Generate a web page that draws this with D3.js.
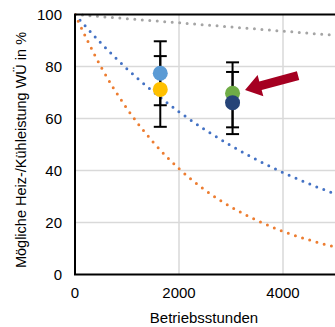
<!DOCTYPE html>
<html>
<head>
<meta charset="utf-8">
<script src="https://cdn.jsdelivr.net/npm/d3@7"></script>
<style>
  body { margin: 0; background: #fff; }
  svg { display: block; font-family: "Liberation Sans", Arial, sans-serif; }
</style>
</head>
<body>
<svg id="chart"></svg>
<script>
var width = 335;
var height = 327;

// trend curves, every 500 h
var hours = [0, 500, 1000, 1500, 2000, 2500, 3000, 3500, 4000, 4500, 5000];
var grayCurve = [100, 99.2, 98.4, 97.6, 96.8, 96.0, 95.2, 94.4, 93.6, 92.8, 92.0];
var blueCurve = [100, 89.0, 79.1, 70.4, 62.6, 55.7, 49.6, 44.1, 39.2, 34.9, 31.0];
var orangeCurve = [100, 79.9, 63.8, 51.0, 40.7, 32.5, 26.0, 20.8, 16.6, 13.3, 10.6];

// measured points with error bars
var pointHours = [1640, 1640, 3030, 3030];
var pointValues = [77.4, 71.2, 69.7, 66.1];
var pointUpper = [89.7, 84.0, 81.6, 77.9];
var pointLower = [65.1, 56.8, 56.6, 54.0];
var pointColors = ["#5B9BD5", "#FFC000", "#70AD47", "#264478"];

var xTicks = [0, 2000, 4000];
var yTicks = [0, 20, 40, 60, 80, 100];

var svg = d3.select("#chart")
    .attr("width", width)
    .attr("height", height);

var x = d3.scaleLinear().domain([0, 5000]).range([75, 335]);
var y = d3.scaleLinear().domain([0, 100]).range([274.5, 14.5]);

svg.append("defs").append("clipPath")
    .attr("id", "plot-clip")
    .append("rect")
    .attr("x", x(0)).attr("y", y(100) - 2)
    .attr("width", x(5000) - x(0)).attr("height", y(0) - y(100) + 2);

// grid
svg.append("g")
    .selectAll("line.h")
    .data(yTicks.filter(function (d) { return d > 0 && d < 100; }))
    .enter().append("line")
    .attr("x1", x(0)).attr("x2", x(5000))
    .attr("y1", y).attr("y2", y)
    .attr("stroke", "#D9D9D9")
    .attr("stroke-width", 1.5);

svg.append("g")
    .selectAll("line.v")
    .data(xTicks.filter(function (d) { return d > 0; }))
    .enter().append("line")
    .attr("x1", x).attr("x2", x)
    .attr("y1", y(0)).attr("y2", y(100))
    .attr("stroke", "#D9D9D9")
    .attr("stroke-width", 1.5);

// dotted trend curves
var line = d3.line()
    .x(function (d, i) { return x(hours[i]); })
    .y(function (d) { return y(d); })
    .curve(d3.curveMonotoneX);

var curves = [
    { values: grayCurve, color: "#A5A5A5" },
    { values: blueCurve, color: "#4472C4" },
    { values: orangeCurve, color: "#ED7D31" }
];

svg.append("g")
    .attr("clip-path", "url(#plot-clip)")
    .selectAll("path")
    .data(curves).enter().append("path")
    .attr("d", function (d) { return line(d.values); })
    .attr("fill", "none")
    .attr("stroke", function (d) { return d.color; })
    .attr("stroke-width", 3)
    .attr("stroke-linecap", "round")
    .attr("stroke-dasharray", "0 7.5");

// frame
svg.append("path")
    .attr("d", "M" + x(5000) + "," + y(100) + "H" + x(0) + "V" + y(0) + "H" + x(5000))
    .attr("fill", "none")
    .attr("stroke", "#000")
    .attr("stroke-width", 2);

// error bars
var bars = svg.append("g");
pointHours.forEach(function (h, i) {
    var cx = x(h);
    bars.append("line")
        .attr("x1", cx).attr("x2", cx)
        .attr("y1", y(pointUpper[i])).attr("y2", y(pointLower[i]))
        .attr("stroke", "#000").attr("stroke-width", 2);
    [pointUpper[i], pointLower[i]].forEach(function (v) {
        bars.append("line")
            .attr("x1", cx - 6.5).attr("x2", cx + 6.5)
            .attr("y1", y(v)).attr("y2", y(v))
            .attr("stroke", "#000").attr("stroke-width", 2);
    });
});

// markers
svg.append("g")
    .selectAll("circle")
    .data(pointValues).enter().append("circle")
    .attr("cx", function (d, i) { return x(pointHours[i]); })
    .attr("cy", function (d) { return y(d); })
    .attr("r", 7.5)
    .attr("fill", function (d, i) { return pointColors[i]; });

// arrow pointing at the right pair
var tail = [x(4290), y(76.5)];
var tip = [x(3270), y(71)];
var ang = Math.atan2(tip[1] - tail[1], tip[0] - tail[0]);
var len = Math.hypot(tip[0] - tail[0], tip[1] - tail[1]);
var headLen = 16, headW = 11, shaftW = 4.5;
svg.append("path")
    .attr("transform", "translate(" + tail[0] + "," + tail[1] + ") rotate(" + (ang * 180 / Math.PI) + ")")
    .attr("d", "M0," + (-shaftW) + "L" + (len - headLen) + "," + (-shaftW) +
        "L" + (len - headLen) + "," + (-headW) + "L" + len + ",0" +
        "L" + (len - headLen) + "," + headW + "L" + (len - headLen) + "," + shaftW +
        "L0," + shaftW + "Z")
    .attr("fill", "#A50021");

// tick labels
svg.append("g")
    .selectAll("text")
    .data(yTicks).enter().append("text")
    .attr("x", 62)
    .attr("y", function (d) { return y(d); })
    .attr("dy", "0.36em")
    .attr("text-anchor", "end")
    .attr("font-size", 15)
    .text(function (d) { return d; });

svg.append("g")
    .selectAll("text")
    .data(xTicks).enter().append("text")
    .attr("x", x)
    .attr("y", 298)
    .attr("text-anchor", "middle")
    .attr("font-size", 15)
    .text(function (d) { return d; });

// axis titles
svg.append("text")
    .attr("x", 204)
    .attr("y", 323)
    .attr("text-anchor", "middle")
    .attr("font-size", 15)
    .text("Betriebsstunden");

svg.append("text")
    .attr("transform", "translate(25.5,150) rotate(-90)")
    .attr("text-anchor", "middle")
    .attr("font-size", 14.5)
    .text("Mögliche Heiz-/Kühleistung WÜ in %");
</script>
</body>
</html>
